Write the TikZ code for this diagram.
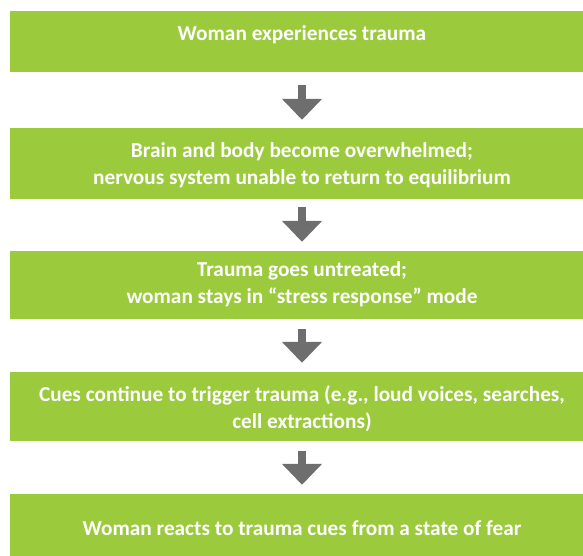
\documentclass[tikz,border=0pt]{standalone}
\usepackage{fontspec}
\setmainfont{Carlito}
\usetikzlibrary{arrows.meta}
\definecolor{boxgreen}{HTML}{9BCA3C}
\definecolor{arrowgray}{HTML}{6E6E6E}
\tikzset{
  box/.style={draw=none, fill=boxgreen, rectangle, minimum width=584pt, inner sep=0pt},
  txt/.style={text=white, font=\bfseries\fontsize{21.3}{26.5}\selectfont, align=center, inner sep=0pt},
  flowarrow/.style={draw=arrowgray, line width=8pt, -{Triangle[width=39pt,length=21pt]}}
}
\begin{document}
\begin{tikzpicture}[x=1pt,y=-1pt]
\useasboundingbox (0,0) rectangle (583,556);
\begin{scope}
\clip (0,0) rectangle (583,556);
\node[box, minimum height=61pt] (b1) at (302,41.5) {};
\node[box, minimum height=71pt] (b2) at (302,163.5) {};
\node[box, minimum height=68pt] (b3) at (302,285) {};
\node[box, minimum height=69pt] (b4) at (302,406.5) {};
\node[box, minimum height=66pt] (b5) at (302,527) {};
\end{scope}
\node[txt] (t1) at (302,35) {Woman experiences trauma};
\node[txt] (t2) at (302,165) {Brain and body become overwhelmed;\\nervous system unable to return to equilibrium};
\node[txt] (t3) at (302,284) {Trauma goes untreated;\\woman stays in “stress response” mode};
\node[txt] (t4) at (302,408.5) {Cues continue to trigger trauma (e.g., loud voices, searches,\\cell extractions)};
\node[txt] (t5) at (302,528) {Woman reacts to trauma cues from a state of fear};
\draw[flowarrow] ([yshift=-13pt]b1.south) -- ([yshift=8pt]b2.north);
\draw[flowarrow] ([yshift=-8pt]b2.south) -- ([yshift=9pt]b3.north);
\draw[flowarrow] ([yshift=-10pt]b3.south) -- ([yshift=9pt]b4.north);
\draw[flowarrow] ([yshift=-10pt]b4.south) -- ([yshift=9pt]b5.north);
\end{tikzpicture}
\end{document}
